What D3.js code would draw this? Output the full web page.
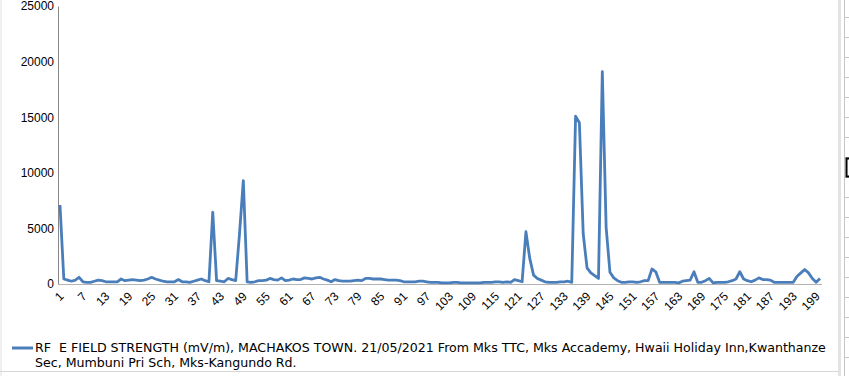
<!DOCTYPE html>
<html>
<head>
<meta charset="utf-8">
<script src="https://cdn.jsdelivr.net/npm/d3@7"></script>
<style>
  body { margin: 0; background: #fff; }
  svg { display: block; font-family: "DejaVu Sans", sans-serif; }
  .tick text { font-size: 12px; fill: #000; }
  .legend-text { font-size: 12.6px; white-space: pre; }
</style>
</head>
<body>
<div id="chart"></div>
<script>
// RF E field strength readings (mV/m), one per measurement point
var fieldStrength = [
  7100, 450, 350, 250, 350, 600, 200, 150, 150, 250,
  350, 300, 200, 200, 200, 200, 450, 300, 350, 400,
  350, 300, 350, 450, 600, 450, 350, 250, 200, 200,
  200, 400, 200, 200, 150, 250, 350, 450, 300, 200,
  6450, 300, 250, 200, 500, 400, 300, 4500, 9300, 200,
  150, 200, 300, 300, 350, 500, 400, 350, 550, 300,
  350, 450, 400, 400, 550, 500, 450, 550, 600, 450,
  350, 200, 400, 300, 250, 250, 250, 300, 350, 300,
  500, 500, 450, 450, 450, 400, 350, 350, 350, 300,
  200, 200, 200, 200, 250, 250, 200, 150, 150, 150,
  100, 100, 100, 150, 150, 100, 100, 100, 100, 100,
  100, 150, 150, 150, 200, 200, 150, 200, 150, 400,
  300, 200, 4700, 2300, 800, 500, 350, 200, 150, 150,
  150, 200, 200, 250, 150, 15100, 14500, 4500, 1450, 1000,
  750, 500, 19100, 5100, 1050, 550, 300, 150, 150, 200,
  200, 150, 200, 300, 300, 1350, 1100, 150, 150, 150,
  150, 150, 100, 250, 300, 350, 1100, 150, 150, 300,
  500, 100, 150, 150, 150, 200, 300, 450, 1100, 450,
  300, 200, 350, 550, 400, 400, 350, 150, 150, 150,
  150, 150, 150, 700, 1000, 1300, 1000, 500, 150, 500
];
var categories = d3.range(1, fieldStrength.length + 1);
var xTickLabels = [1, 7, 13, 19, 25, 31, 37, 43, 49, 55, 61, 67, 73, 79, 85, 91, 97,
  103, 109, 115, 121, 127, 133, 139, 145, 151, 157, 163, 169, 175, 181, 187, 193, 199];
var yTickValues = [0, 5000, 10000, 15000, 20000, 25000];
var legendLines = [
  "RF  E FIELD STRENGTH (mV/m), MACHAKOS TOWN. 21/05/2021 From Mks TTC, Mks Accademy, Hwaii Holiday Inn,Kwanthanze",
  "Sec, Mumbuni Pri Sch, Mks-Kangundo Rd."
];

var width = 849, height = 376;
var lineColor = "#4a7ebb";

var svg = d3.select("#chart")
  .append("svg")
  .attr("width", width)
  .attr("height", height);

// spreadsheet bits around the chart object
svg.append("rect").attr("x", 0).attr("y", 0).attr("width", 2).attr("height", height).attr("fill", "#efefef");
svg.append("rect").attr("x", 838).attr("y", 0).attr("width", 3).attr("height", height).attr("fill", "#e3e3e3");
svg.append("line").attr("x1", 844.5).attr("x2", 844.5).attr("y1", 0).attr("y2", height)
  .attr("stroke", "#c6c6c6");
svg.selectAll(".cell-row")
  .data(d3.range(17, height, 20))
  .enter()
  .append("line")
  .attr("x1", 845).attr("x2", width)
  .attr("y1", (d) => d + 0.5).attr("y2", (d) => d + 0.5)
  .attr("stroke", "#c6c6c6");
svg.append("path")
  .attr("d", "M849,158.5H846.5V176.5H849")
  .attr("fill", "none").attr("stroke", "#000").attr("stroke-width", 2);
svg.append("line").attr("x1", 0).attr("x2", 838).attr("y1", 371.5).attr("y2", 371.5)
  .attr("stroke", "#d6d6d6");

// scales
var x = d3.scalePoint().domain(categories).range([60, 820]);
var y = d3.scaleLinear().domain([0, 25000]).range([284, 6]);

// Y axis
var yAxis = svg.append("g")
  .attr("transform", "translate(58,0)")
  .call(d3.axisLeft(y).tickValues(yTickValues).tickSize(0).tickPadding(4).tickFormat(d3.format("d")));
yAxis.select(".domain").attr("stroke", "#888");

// X axis
var xAxis = svg.append("g")
  .attr("transform", "translate(0,284)")
  .call(d3.axisBottom(x).tickValues(xTickLabels).tickSize(0));
xAxis.select(".domain").remove();
xAxis.selectAll(".tick text")
  .attr("x", 0).attr("y", 0).attr("dy", 0)
  .attr("text-anchor", "end")
  .attr("transform", "translate(4,13) rotate(-45)");

svg.append("line")
  .attr("x1", x(categories[0]) - 2)
  .attr("x2", x(categories[categories.length - 1]) + 2)
  .attr("y1", 284.5).attr("y2", 284.5)
  .attr("stroke", "#b3b3b3");

// the series line
var line = d3.line()
  .x((d, i) => x(categories[i]))
  .y((d) => y(d));

svg.append("path")
  .datum(fieldStrength)
  .attr("fill", "none")
  .attr("stroke", lineColor)
  .attr("stroke-width", 2.8)
  .attr("stroke-linejoin", "round")
  .attr("d", line);

// legend
svg.append("line")
  .attr("x1", 12).attr("x2", 33)
  .attr("y1", 348).attr("y2", 348)
  .attr("stroke", lineColor).attr("stroke-width", 3);

svg.selectAll(".legend-text")
  .data(legendLines)
  .enter()
  .append("text")
  .attr("class", "legend-text")
  .attr("x", 35)
  .attr("y", (d, i) => 352 + i * 15)
  .text((d) => d);
</script>
</body>
</html>
